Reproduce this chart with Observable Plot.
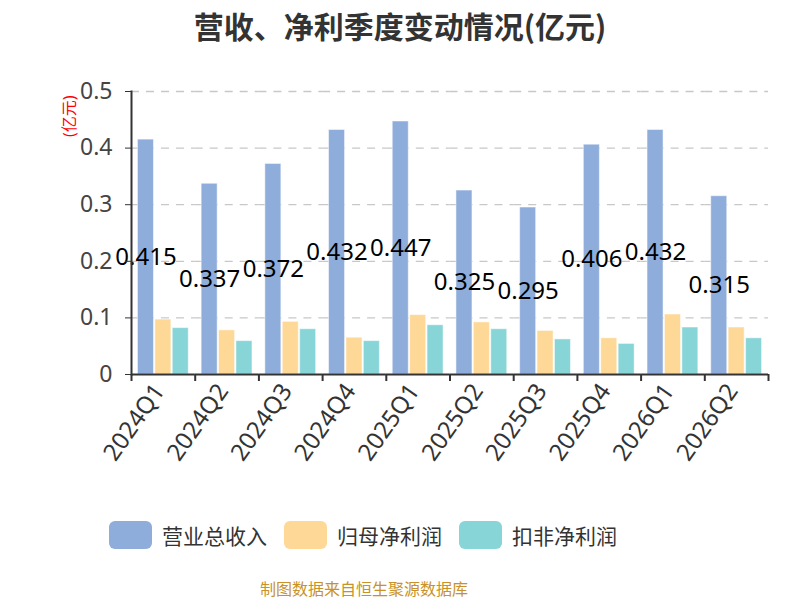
<!DOCTYPE html>
<html>
<head>
<meta charset="utf-8">
<script src="https://cdn.jsdelivr.net/npm/d3@7"></script>
<script src="https://cdn.jsdelivr.net/npm/@observablehq/plot@0.6"></script>
<style>
  body { margin: 0; background: #fff; }
  #wrap { position: relative; width: 800px; height: 600px; font-family: "Noto Sans", "Noto Sans CJK SC", sans-serif; overflow: hidden; }
  #title { position: absolute; left: 0; top: 5px; width: 800px; text-align: center; font-size: 30px; line-height: 40px; font-weight: bold; color: #333; font-family: "Noto Sans CJK SC", sans-serif; }
  #legend { position: absolute; left: 109px; top: 521px; display: flex; gap: 17px; font-size: 21px; line-height: 28px; color: #333; font-family: "Noto Sans CJK SC", sans-serif; }
  .item { display: flex; align-items: center; gap: 10px; }
  .sw { width: 43px; height: 28px; border-radius: 6px; }
  #caption { position: absolute; left: 260px; top: 580px; font-size: 16px; line-height: 17px; color: #c89228; font-family: "Noto Sans CJK SC", sans-serif; white-space: nowrap; }
  #chart { position: absolute; left: 0; top: 0; }
</style>
</head>
<body>
<div id="wrap">
  <div id="chart"></div>
  <div id="title">营收、净利季度变动情况(亿元)</div>
  <div id="legend"></div>
  <div id="caption">制图数据来自恒生聚源数据库</div>
</div>
<script>
const quarters = ["2024Q1","2024Q2","2024Q3","2024Q4","2025Q1","2025Q2","2025Q3","2025Q4","2026Q1","2026Q2"];
const seriesNames = ["营业总收入","归母净利润","扣非净利润"];
const seriesColors = ["#8eaddb","#fed897","#88d5d8"];
const revenue   = [0.415,0.337,0.372,0.432,0.447,0.325,0.295,0.406,0.432,0.315];
const netProfit = [0.097,0.078,0.093,0.065,0.105,0.092,0.077,0.064,0.106,0.083];
const deducted  = [0.082,0.059,0.080,0.059,0.087,0.080,0.062,0.054,0.083,0.064];
const yTicks = [0,0.1,0.2,0.3,0.4,0.5];

const seriesValues = [revenue, netProfit, deducted];
const rows = [];
quarters.forEach((q, i) => seriesNames.forEach((s, j) => rows.push({q, s, v: seriesValues[j][i]})));
const revRows = rows.filter(d => d.s === seriesNames[0]);

const W = 800, H = 600, mL = 131, mR = 32, mT = 91, mB = 226;
const step = (W - mL - mR) / quarters.length;

const chart = Plot.plot({
  width: W, height: H,
  marginLeft: mL, marginRight: mR, marginTop: mT, marginBottom: mB,
  style: {fontFamily: "'Noto Sans', 'Noto Sans CJK SC', sans-serif", color: "#333", background: "white"},
  fx: {domain: quarters, padding: 0, round: false, label: null},
  x: {domain: seriesNames, paddingInner: 0.08, paddingOuter: 0.37, round: false, axis: null},
  y: {domain: [0, 0.5], label: null},
  color: {domain: seriesNames, range: seriesColors},
  marks: [
    Plot.ruleY(yTicks.filter(d => d > 0), {stroke: "#c8c8c8", strokeWidth: 1.3, strokeDasharray: "8,7"}),
    Plot.barY(rows, {fx: "q", x: "s", y: "v", fill: "s", stroke: "white", strokeOpacity: 0.5, strokeWidth: 1}),
    Plot.text(revRows, {fx: "q", x: "s", y: d => d.v / 2, text: d => String(d.v), fontSize: 24, fill: "black"}),
    Plot.ruleY([0], {stroke: "#333", strokeWidth: 2}),
    Plot.frame({anchor: "left", facetAnchor: "left", stroke: "#333", strokeWidth: 2}),
    Plot.axisY({ticks: yTicks, tickFormat: d => String(d), tickSize: 6, fontSize: 23, fill: "#444", stroke: "#333", tickPadding: 13, label: null}),
    Plot.axisFx({anchor: "bottom", tickSize: 7, tickFormat: () => "", dx: -step / 2, stroke: "#333", strokeWidth: 2, label: null}),
    Plot.axisFx({anchor: "bottom", ticks: [quarters[quarters.length - 1]], tickSize: 7, tickFormat: () => "", dx: step / 2, stroke: "#333", strokeWidth: 2, label: null}),
    Plot.axisFx({anchor: "bottom", tickSize: 0, tickRotate: -55, fontSize: 24, fill: "#333", tickPadding: 12, dx: -4, label: null}),
    Plot.text(["(亿元)"], {frameAnchor: "top-left", facetAnchor: "left", dx: -68, dy: 4, rotate: -90, textAnchor: "end", fontSize: 16, fill: "red"})
  ]
});
document.getElementById("chart").appendChild(chart);

const legend = document.getElementById("legend");
seriesNames.forEach((s, i) => {
  const item = document.createElement("div");
  item.className = "item";
  item.innerHTML = `<div class="sw" style="background:${seriesColors[i]}"></div><span>${s}</span>`;
  legend.appendChild(item);
});
</script>
</body>
</html>
